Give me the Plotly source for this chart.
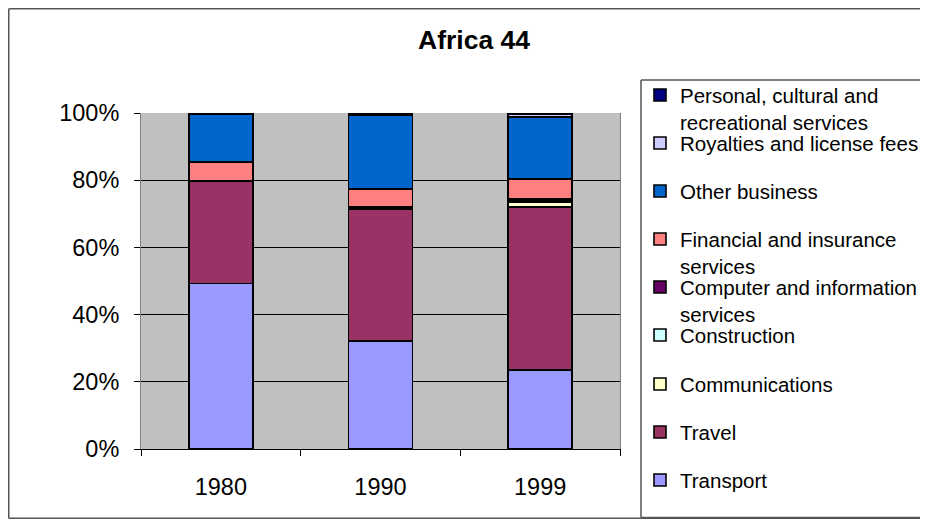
import plotly.graph_objects as go

# ---- data (shares of services exports, %) ----
years = ["1980", "1990", "1999"]
transport = [49.3, 32.1, 23.5]
travel = [30.3, 39.2, 48.6]
communications = [0.1, 0.3, 1.5]
construction = [0.0, 0.1, 0.3]
computer_info = [0.1, 0.3, 0.5]
financial_insurance = [5.6, 5.3, 6.0]
other_business = [14.2, 22.1, 18.5]
royalties = [0.1, 0.1, 0.8]
personal_cultural = [0.3, 0.5, 0.3]

series_names = [
    "Transport",
    "Travel",
    "Communications",
    "Construction",
    "Computer and information<br>services",
    "Financial and insurance<br>services",
    "Other business",
    "Royalties and license fees",
    "Personal, cultural and<br>recreational services",
]
series_values = [transport, travel, communications, construction, computer_info,
                 financial_insurance, other_business, royalties, personal_cultural]
series_colors = ["#9999FF", "#993366", "#FFFFCC", "#CCFFFF", "#660066",
                 "#FF8080", "#0066CC", "#CCCCFF", "#000080"]

# ---- layout geometry ----
# The page body has an 8px margin, so the figure sits at (8, 8) in the window;
# size it so that the page does not overflow the 928x527 window.
OFF = 8
W, H = 928 - 2 * OFF, 527 - 2 * OFF
# plot area edges in window pixels
SPL, SPR, SPT, SPB = 141, 620, 113, 449
PL, PR, PT, PB = SPL - OFF, SPR - OFF, SPT - OFF, SPB - OFF
pw, ph = PR - PL, PB - PT

def px_x(sx):
    return (sx - OFF - PL) / pw

def px_y(sy):
    return (PB - (sy - OFF)) / ph

# legend symbol centres (window px), in trace order
legend_symbol_y = [480, 432, 384, 335, 287, 239, 191, 143, 95]
legend_text_x = 680

FONT = "Liberation Sans, Arial, sans-serif"

fig = go.Figure()
layout_legends = {}
for i, (name, vals, color) in enumerate(zip(series_names, series_values, series_colors)):
    lid = "legend" if i == 0 else f"legend{i + 1}"
    fig.add_trace(go.Bar(
        x=years, y=vals, name=name, legend=lid,
        marker=dict(color=color, line=dict(color="black", width=1.6)),
        width=0.4,
    ))
    layout_legends[lid] = dict(
        x=px_x(legend_text_x - 40), xanchor="left",
        y=px_y(legend_symbol_y[i] - 19.8), yanchor="top",
        bgcolor="rgba(0,0,0,0)", borderwidth=0, valign="top",
        font=dict(family=FONT, size=20.5, color="black"),
    )

BORDER = dict(color="#555555", width=1.5)
RIGHT = 960  # lines run past the right edge of the window

def hline(sx0, sx1, sy):
    return dict(type="line", xref="paper", yref="paper", x0=px_x(sx0), x1=px_x(sx1),
                y0=px_y(sy), y1=px_y(sy), line=BORDER, layer="below")

def vline(sx, sy0, sy1):
    return dict(type="line", xref="paper", yref="paper", x0=px_x(sx), x1=px_x(sx),
                y0=px_y(sy0), y1=px_y(sy1), line=BORDER, layer="below")

shapes = [
    # outer chart border
    vline(8.75, 8.75, 518.3), hline(8.75, RIGHT, 8.75), hline(8.75, RIGHT, 518.3),
    # legend box
    vline(641, 80, 517.5), hline(641, RIGHT, 80), hline(641, RIGHT, 517.5),
]

fig.update_layout(
    width=W, height=H,
    margin=dict(l=PL, r=W - PR, t=PT, b=H - PB, pad=0, autoexpand=False),
    paper_bgcolor="white",
    plot_bgcolor="#C0C0C0",
    barmode="stack",
    barnorm="percent",
    title=dict(text="<b>Africa 44</b>", x=(474 - OFF) / W, xanchor="center", xref="container",
               y=1 - (40 - OFF) / H, yanchor="middle", yref="container",
               font=dict(family=FONT, size=26.5, color="black")),
    xaxis=dict(
        type="category", showgrid=False, showline=True, linecolor="black", linewidth=1,
        ticks="outside", tickson="boundaries", ticklen=6, tickcolor="black",
        tickfont=dict(family=FONT, size=23.5, color="black"),
        ticklabelstandoff=17,
    ),
    yaxis=dict(
        range=[0, 100], dtick=20, ticksuffix="%",
        showgrid=True, gridcolor="black", gridwidth=1, zeroline=False,
        showline=True, linecolor="#808080", linewidth=1, mirror=True,
        ticks="outside", ticklen=6, tickcolor="black",
        tickfont=dict(family=FONT, size=23.5, color="black"),
        ticklabelstandoff=10,
    ),
    showlegend=True,
    shapes=shapes,
    **layout_legends,
)

fig.write_html("out.html")
